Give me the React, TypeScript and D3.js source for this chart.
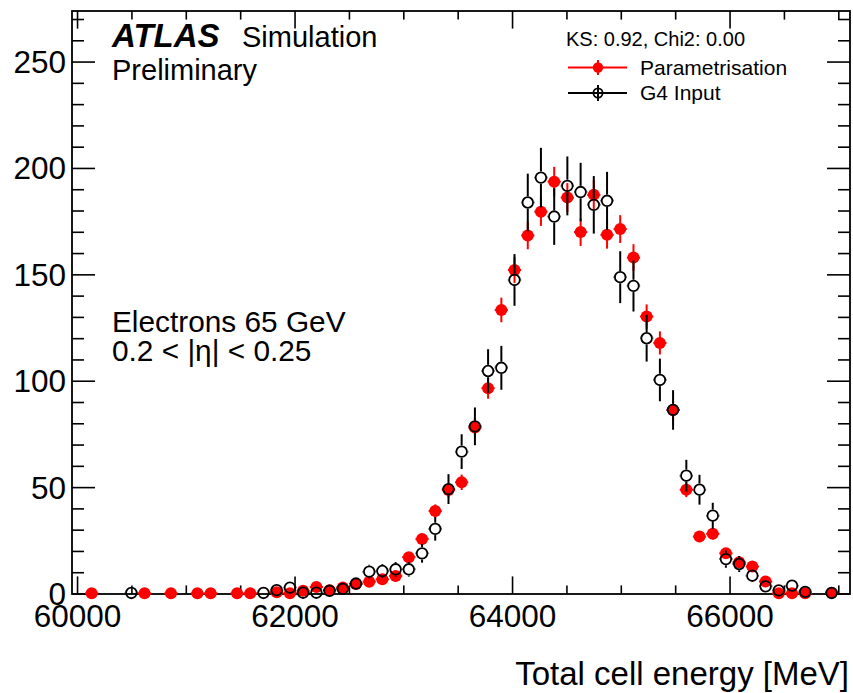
import React from 'react';
import * as d3 from 'd3';

// Bin centres of the total cell energy histogram [MeV]
const binCenters = [
  60130, 60252, 60373, 60495, 60616, 60738, 60859, 60981, 61102, 61224,
  61345, 61467, 61588, 61710, 61831, 61953, 62074, 62196, 62317, 62439,
  62560, 62682, 62803, 62925, 63046, 63168, 63289, 63411, 63532, 63654,
  63775, 63897, 64018, 64140, 64261, 64383, 64504, 64626, 64747, 64869,
  64990, 65112, 65233, 65355, 65476, 65598, 65719, 65841, 65962, 66084,
  66205, 66327, 66448, 66570, 66691, 66813, 66934,
];
const BIN_WIDTH = 121.5;

// Parametrisation (normalised to the G4 sample); null = empty bin
const parametrisation: (number | null)[] = [
  0.3, null, null, null, 0.3, null, 0.3, null, 0.3, 0.3,
  null, 0.3, 0.3, null, 0.8, 0.3, 1.5, 3.3, 1.8, 3.1,
  4.7, 5.8, 6.9, 8.5, 17.3, 25.9, 39.0, 48.9, 52.5, 78.2,
  96.7, 133.5, 152.3, 168.5, 179.7, 193.8, 186.3, 170.1, 187.6, 168.8,
  171.5, 158.1, 130.4, 118.0, 86.5, 49.0, 27.0, 28.3, 19.1, 14.9,
  12.9, 5.9, 0.3, 0.3, 0.3, null, 0.5,
];

// Geant4 input; null = empty bin
const g4Input: (number | null)[] = [
  null, null, null, 0.5, null, null, null, null, null, null,
  null, null, null, 0.5, 1.8, 3.0, 0.6, 0.6, 1.5, 2.4,
  4.9, 10.5, 10.8, 11.6, 11.6, 19.1, 30.6, 49.3, 66.9, 78.8,
  104.8, 106.3, 147.6, 184.0, 195.7, 177.4, 191.8, 188.9, 182.9, 184.8,
  148.9, 144.8, 120.2, 100.6, 86.5, 55.6, 49.0, 36.8, 16.4, 14.1,
  8.6, 3.6, 1.7, 3.9, 1.0, null, 0.5,
];

// Poisson errors; the parametrisation sample is larger, so its errors are halved
const PARAM_ERR_SCALE = 0.5;

const xTickValues = [60000, 62000, 64000, 66000];
const xTickLabels = ['60000', '62000', '64000', '66000'];
const yTickValues = [0, 50, 100, 150, 200, 250];
const yTickLabels = ['0', '50', '100', '150', '200', '250'];

const W = 853;
const H = 693;
const FONT = '"Liberation Sans", Arial, Helvetica, sans-serif';
const RED = '#ff0000';

export default function App() {
  const x = d3.scaleLinear().domain([59949, 67103]).range([72, 850]);
  const y = d3.scaleLinear().domain([0, 274]).range([594, 11]);
  const [x0, x1] = x.range();
  const [yb, yt] = y.range();

  const xMinor = d3.range(60000, 67001, 500);
  const yMinor = d3.range(0, 271, 10);

  const redR = 6;
  const blackR = 5.3;

  const redPts = binCenters
    .map((c, i) => ({ c, v: parametrisation[i] }))
    .filter((d) => d.v !== null) as { c: number; v: number }[];
  const blackPts = binCenters
    .map((c, i) => ({ c, v: g4Input[i] }))
    .filter((d) => d.v !== null) as { c: number; v: number }[];

  return (
    <svg
      width={W}
      height={H}
      style={{ position: 'absolute', left: 0, top: 0, background: '#fff' }}
      fontFamily={FONT}
    >
      <rect x={0} y={0} width={W} height={H} fill="#fff" />

      {/* frame */}
      <rect x={x0} y={yt} width={x1 - x0} height={yb - yt} fill="none" stroke="#000" strokeWidth={1.8} />

      {/* x ticks, bottom and top */}
      {xMinor.map((t) => {
        const major = xTickValues.includes(t);
        const len = major ? 17.6 : 8.6;
        return (
          <g key={'xt' + t} stroke="#000" strokeWidth={1.6}>
            <line x1={x(t)} x2={x(t)} y1={yb} y2={yb - len} />
            <line x1={x(t)} x2={x(t)} y1={yt} y2={yt + len} />
          </g>
        );
      })}
      {/* y ticks, left and right */}
      {yMinor.map((t) => {
        const major = yTickValues.includes(t);
        const len = major ? 23 : 12;
        return (
          <g key={'yt' + t} stroke="#000" strokeWidth={1.6}>
            <line x1={x0} x2={x0 + len} y1={y(t)} y2={y(t)} />
            <line x1={x1} x2={x1 - len} y1={y(t)} y2={y(t)} />
          </g>
        );
      })}

      {/* tick labels */}
      {xTickValues.map((t, i) => (
        <text key={'xl' + t} x={x(t)} y={627} fontSize={31.5} textAnchor="middle" fill="#000">
          {xTickLabels[i]}
        </text>
      ))}
      {yTickValues.map((t, i) => (
        <text key={'yl' + t} x={66} y={y(t) + 11} fontSize={31.5} textAnchor="end" fill="#000">
          {yTickLabels[i]}
        </text>
      ))}

      {/* axis title */}
      <text x={849} y={685} fontSize={33} textAnchor="end" fill="#000">
        Total cell energy [MeV]
      </text>

      {/* parametrisation */}
      {redPts.map((d, i) => {
        const e = PARAM_ERR_SCALE * Math.sqrt(d.v);
        const cx = x(d.c);
        const cy = y(d.v);
        return (
          <g key={'r' + i}>
            <line x1={cx} x2={cx} y1={y(d.v + e)} y2={y(Math.max(d.v - e, 0) - (d.v - e < 0 ? d.v - e : 0))} stroke={RED} strokeWidth={2} />
            <line x1={x(d.c - BIN_WIDTH / 2)} x2={x(d.c + BIN_WIDTH / 2)} y1={cy} y2={cy} stroke={RED} strokeWidth={2} />
            <circle cx={cx} cy={cy} r={redR} fill={RED} />
          </g>
        );
      })}

      {/* G4 input */}
      {blackPts.map((d, i) => {
        const e = Math.sqrt(d.v);
        const cx = x(d.c);
        const cy = y(d.v);
        const top = y(d.v + e);
        const bot = y(d.v - e);
        const left = x(d.c - BIN_WIDTH / 2);
        const right = x(d.c + BIN_WIDTH / 2);
        const r = blackR + 0.9;
        return (
          <g key={'b' + i} stroke="#000" strokeWidth={2}>
            {top < cy - r && <line x1={cx} x2={cx} y1={top} y2={cy - r} />}
            {bot > cy + r && <line x1={cx} x2={cx} y1={cy + r} y2={bot} />}
            {left < cx - r && <line x1={left} x2={cx - r} y1={cy} y2={cy} />}
            {right > cx + r && <line x1={cx + r} x2={right} y1={cy} y2={cy} />}
            <circle cx={cx} cy={cy} r={blackR} fill="none" strokeWidth={1.8} />
          </g>
        );
      })}

      {/* labels */}
      <text x={112} y={47} fontSize={33} fontWeight="bold" fontStyle="italic" fill="#000">
        ATLAS
      </text>
      <text x={242} y={47} fontSize={29} fill="#000">
        Simulation
      </text>
      <text x={112} y={80} fontSize={29} fill="#000">
        Preliminary
      </text>
      <text x={112} y={332} fontSize={29.8} fill="#000">
        Electrons 65 GeV
      </text>
      <text x={112} y={361} fontSize={29.8} fill="#000">
        0.2 &lt; |η| &lt; 0.25
      </text>

      {/* legend */}
      <text x={566} y={46} fontSize={20} fill="#000">
        KS: 0.92, Chi2: 0.00
      </text>
      <g>
        <line x1={568} x2={627} y1={67.5} y2={67.5} stroke={RED} strokeWidth={2} />
        <line x1={598} x2={598} y1={60} y2={75} stroke={RED} strokeWidth={2} />
        <circle cx={598} cy={67.5} r={5.2} fill={RED} />
        <text x={640} y={75} fontSize={21} fill="#000">
          Parametrisation
        </text>
      </g>
      <g stroke="#000">
        <line x1={568} x2={627} y1={93} y2={93} strokeWidth={2} />
        <line x1={598} x2={598} y1={85} y2={101} strokeWidth={2} />
        <circle cx={598} cy={93} r={4.6} fill="none" strokeWidth={1.8} />
        <text x={640} y={100} fontSize={21} fill="#000" stroke="none">
          G4 Input
        </text>
      </g>
    </svg>
  );
}
